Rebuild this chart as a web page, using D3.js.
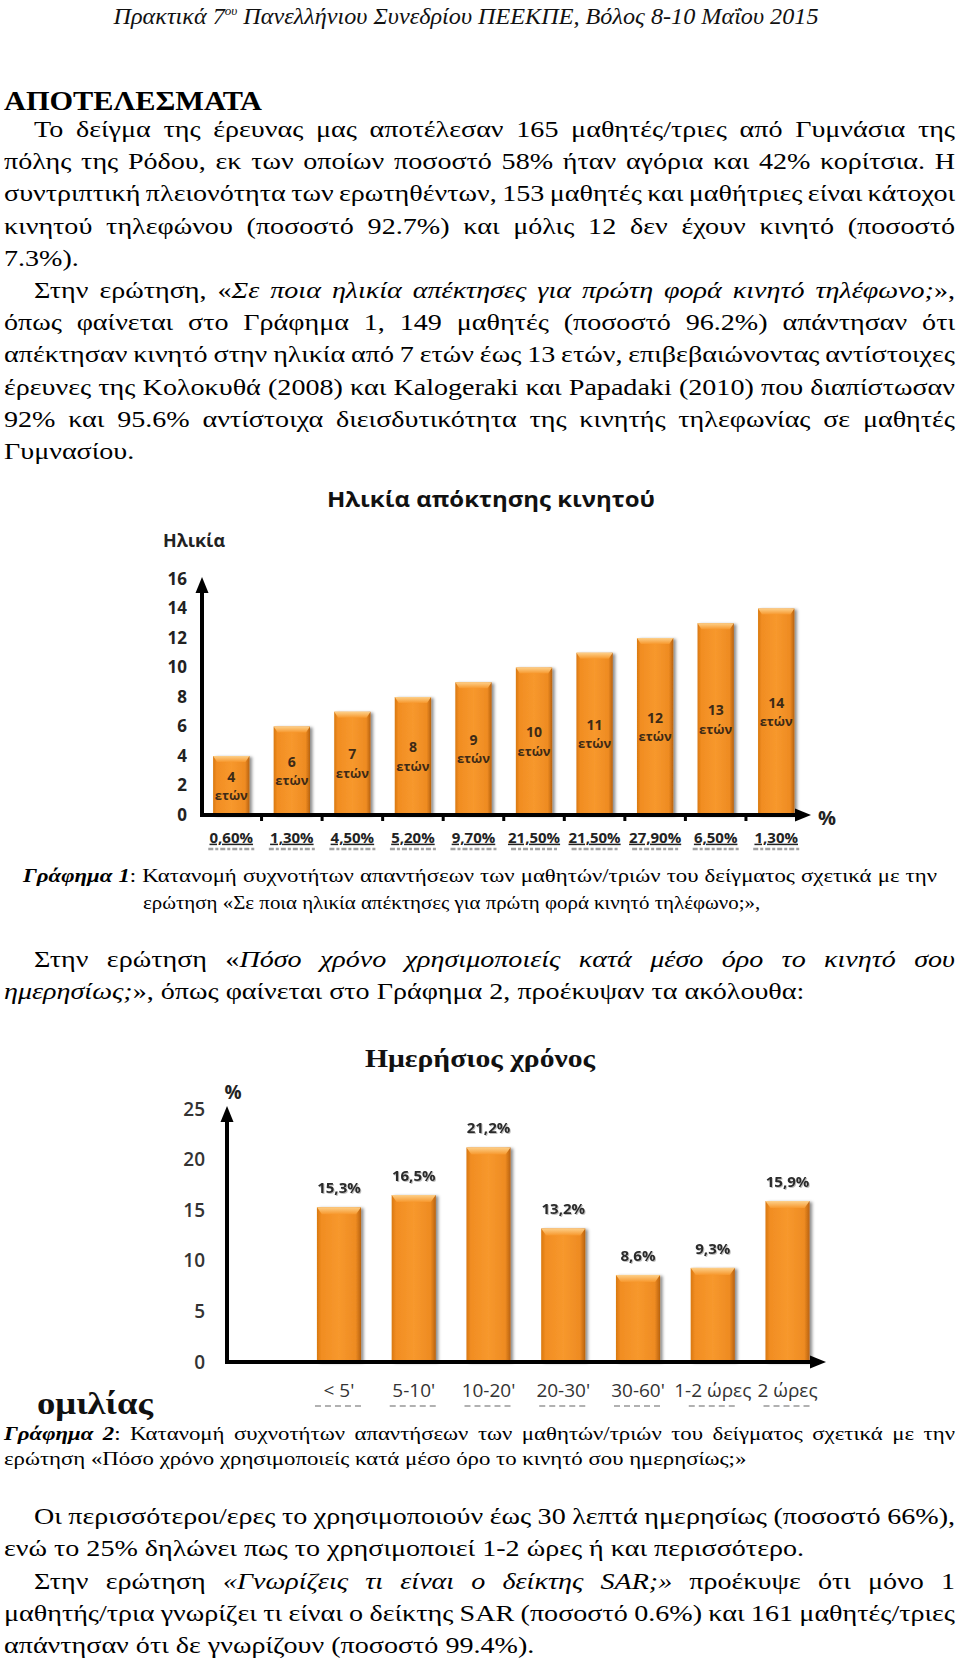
<!DOCTYPE html>
<html><head><meta charset="utf-8">
<script src="https://cdn.jsdelivr.net/npm/d3@7"></script>
<style>
html,body{margin:0;padding:0;background:#fff;}
svg{display:block;}
</style></head>
<body>
<svg id="page" width="960" height="1660"></svg>
<script>
// ---------------- DATA ----------------
const ageCats = ["4","6","7","8","9","10","11","12","13","14"];
const ageValues = [4,6,7,8,9,10,11,12,13,14];
const agePercents = [0.60,1.30,4.50,5.20,9.70,21.50,21.50,27.90,6.50,1.30];
const ageTicks = [0,2,4,6,8,10,12,14,16];

const timeCats = ["< 5'","5-10'","10-20'","20-30'","30-60'","1-2 ώρες","2 ώρες"];
const timeValues = [15.3,16.5,21.2,13.2,8.6,9.3,15.9];
const timeTicks = [0,5,10,15,20,25];

const chart1Title = "Ηλικία απόκτησης κινητού";
const chart1YLabel = "Ηλικία";
const chart1XLabel = "%";
const chart1Unit = "ετών";
const chart2Title = "Ημερήσιος χρόνος";
const chart2YLabel = "%";

// text lines: [segments], segment = [text, style]
const para1 = [
  {segs:[["Το δείγμα της έρευνας μας αποτέλεσαν 165 μαθητές/τριες από Γυμνάσια της",""]], indent:true, justify:true},
  {segs:[["πόλης της Ρόδου, εκ των οποίων ποσοστό 58% ήταν αγόρια και 42% κορίτσια. Η",""]], justify:true},
  {segs:[["συντριπτική πλειονότητα των ερωτηθέντων, 153 μαθητές και μαθήτριες είναι κάτοχοι",""]], justify:true},
  {segs:[["κινητού τηλεφώνου (ποσοστό 92.7%) και μόλις 12 δεν έχουν κινητό (ποσοστό",""]], justify:true},
  {segs:[["7.3%).",""]]},
  {segs:[["Στην ερώτηση, «",""],["Σε ποια ηλικία απέκτησες για πρώτη φορά κινητό τηλέφωνο;","i"],["»,",""]], indent:true, justify:true},
  {segs:[["όπως φαίνεται στο Γράφημα 1, 149 μαθητές (ποσοστό 96.2%) απάντησαν ότι",""]], justify:true},
  {segs:[["απέκτησαν κινητό στην ηλικία από 7 ετών έως 13 ετών, επιβεβαιώνοντας αντίστοιχες",""]], justify:true},
  {segs:[["έρευνες της Κολοκυθά (2008) και Kalogeraki και Papadaki (2010) που διαπίστωσαν",""]], justify:true},
  {segs:[["92% και 95.6% αντίστοιχα διεισδυτικότητα της κινητής τηλεφωνίας σε μαθητές",""]], justify:true},
  {segs:[["Γυμνασίου.",""]]}
];
const caption1 = [
  {segs:[["Γράφημα 1","bi"],[": Κατανομή συχνοτήτων απαντήσεων των μαθητών/τριών του δείγματος σχετικά με την",""]], justify:true, x0:23, x1:937},
  {segs:[["ερώτηση «Σε ποια ηλικία απέκτησες για πρώτη φορά κινητό τηλέφωνο;»,",""]], x0:143, hs:1.1}
];
const para2 = [
  {segs:[["Στην ερώτηση «",""],["Πόσο χρόνο χρησιμοποιείς κατά μέσο όρο το κινητό σου","i"]], indent:true, justify:true},
  {segs:[["ημερησίως;","i"],["», όπως φαίνεται στο Γράφημα 2, προέκυψαν τα ακόλουθα:",""]]}
];
const caption2 = [
  {segs:[["Γράφημα 2","bi"],[": Κατανομή συχνοτήτων απαντήσεων των μαθητών/τριών του δείγματος σχετικά με την",""]], justify:true},
  {segs:[["ερώτηση «Πόσο χρόνο χρησιμοποιείς κατά μέσο όρο το κινητό σου ημερησίως;»",""]]}
];
const para3 = [
  {segs:[["Οι περισσότεροι/ερες το χρησιμοποιούν έως 30 λεπτά ημερησίως (ποσοστό 66%),",""]], indent:true, justify:true},
  {segs:[["ενώ το 25% δηλώνει πως το χρησιμοποιεί 1-2 ώρες ή και περισσότερο.",""]]},
  {segs:[["Στην ερώτηση ",""],["«Γνωρίζεις τι είναι ο δείκτης SAR;»","i"],[" προέκυψε ότι μόνο 1",""]], indent:true, justify:true},
  {segs:[["μαθητής/τρια γνωρίζει τι είναι ο δείκτης SAR (ποσοστό 0.6%) και 161 μαθητές/τριες",""]], justify:true},
  {segs:[["απάντησαν ότι δε γνωρίζουν (ποσοστό 99.4%).",""]]}
];

// ---------------- SETUP ----------------
const SERIF = "'Liberation Serif','Times New Roman',serif";
const SANS = "'Open Sans','Noto Sans',sans-serif";
const svg = d3.select("#page");
const defs = svg.append("defs");

const barGrad = defs.append("linearGradient").attr("id","barGrad").attr("x1","0").attr("x2","1").attr("y1","0").attr("y2","0");
[["0%","#d9780f"],["10%","#f18d22"],["50%","#f7982d"],["88%","#ee8b22"],["100%","#b8620e"]]
  .forEach(([o,c])=>barGrad.append("stop").attr("offset",o).attr("stop-color",c));
const capGrad = defs.append("linearGradient").attr("id","capGrad").attr("x1","0").attr("x2","0").attr("y1","0").attr("y2","1");
[["0%","#fdd08a"],["100%","#f7982d"]].forEach(([o,c])=>capGrad.append("stop").attr("offset",o).attr("stop-color",c));
const sh = defs.append("filter").attr("id","shadow").attr("x","-20%").attr("y","-10%").attr("width","150%").attr("height","130%");
sh.append("feDropShadow").attr("dx",2.5).attr("dy",1).attr("stdDeviation",1.5).attr("flood-color","#000").attr("flood-opacity",0.45);
const tsh = defs.append("filter").attr("id","tshadow");
tsh.append("feDropShadow").attr("dx",1).attr("dy",1).attr("stdDeviation",0.6).attr("flood-color","#000").attr("flood-opacity",0.25);

// ---------------- TEXT HELPERS ----------------
function tokens(segs){
  const toks=[[]];
  segs.forEach(([t,s])=>{
    t.split(" ").forEach((p,i)=>{
      if(i>0) toks.push([]);
      if(p) toks[toks.length-1].push([p,s]);
    });
  });
  return toks.filter(t=>t.length);
}
function renderLine(line, y, o){
  const size=o.size;
  const x0 = line.x0!=null ? line.x0 : o.x0;
  const x1 = line.x1!=null ? line.x1 : o.x1;
  const hs = line.hs!=null ? line.hs : o.hs;
  const start = line.indent ? x0+o.indent : x0;
  const width = x1-start;
  const toks = tokens(line.segs);
  const g = svg.append("g");
  const els = toks.map(tok=>{
    const t = g.append("text").attr("y",y).attr("font-size",size).attr("font-family",o.family||SERIF).attr("fill","#000");
    tok.forEach(([p,s])=>t.append("tspan").text(p)
      .attr("font-style",s.includes("i")?"italic":null)
      .attr("font-weight",s.includes("b")?"bold":null));
    return t;
  });
  const ws = els.map(e=>e.node().getComputedTextLength());
  const sum = d3.sum(ws);
  const space = size*0.25*hs;
  let gap = space, sc = hs;
  if(line.justify && toks.length>1){
    gap = (width-sum*sc)/(toks.length-1);
    if(gap<space*0.6){ gap=space*0.6; sc=(width-gap*(toks.length-1))/sum; }
  }
  let cx = start;
  els.forEach((e,i)=>{
    e.attr("x",cx).attr("textLength",ws[i]*sc).attr("lengthAdjust","spacingAndGlyphs");
    cx += ws[i]*sc + gap;
  });
}
function renderBlock(lines, y0, step, o){
  lines.forEach((l,i)=>renderLine(l, y0+i*step, o));
}

// ---------------- PAGE TEXT ----------------
const header = svg.append("text").attr("x",466).attr("y",24).attr("text-anchor","middle")
  .attr("font-family",SERIF).attr("font-style","italic").attr("font-size",24).attr("fill","#111");
header.append("tspan").text("Πρακτικά 7");
header.append("tspan").text("ου").attr("font-size",13).attr("dy",-9);
header.append("tspan").text(" Πανελλήνιου Συνεδρίου ΠΕΕΚΠΕ, Βόλος 8-10 Μαΐου 2015").attr("dy",9);
header.attr("textLength",705).attr("lengthAdjust","spacingAndGlyphs");

svg.append("text").attr("x",4).attr("y",110).attr("font-family",SERIF).attr("font-weight","bold")
  .attr("font-size",28).attr("textLength",258).attr("lengthAdjust","spacingAndGlyphs").text("ΑΠΟΤΕΛΕΣΜΑΤΑ");

const bodyOpt = {size:24, x0:4, x1:955, indent:30, hs:1.17};
renderBlock(para1, 137, 32.2, bodyOpt);
renderBlock(caption1, 882, 27, {size:19, x0:4, x1:955, indent:0, hs:1.2});
renderBlock(para2, 967, 32, bodyOpt);
renderBlock(caption2, 1440, 25, {size:19, x0:4, x1:955, indent:0, hs:1.2});
renderBlock(para3, 1524, 32.3, bodyOpt);

svg.append("text").attr("x",37).attr("y",1414).attr("font-family",SERIF).attr("font-weight","bold")
  .attr("font-size",32).attr("fill","#111").attr("textLength",116).attr("lengthAdjust","spacingAndGlyphs").text("ομιλίας");

// ---------------- CHART 1 ----------------
{
  const base = 815;
  const x = d3.scaleBand().domain(ageCats).range([201,806.5]).paddingInner(0.4).paddingOuter(0.2);
  const y = d3.scaleLinear().domain([0,16]).range([base,579]);
  const g = svg.append("g");

  g.append("text").attr("x",491).attr("y",507).attr("text-anchor","middle")
    .attr("font-family",SANS).attr("font-weight","bold").attr("font-size",22).attr("fill","#111")
    .attr("textLength",328).attr("lengthAdjust","spacingAndGlyphs").text(chart1Title);
  g.append("text").attr("x",163).attr("y",547).attr("font-family",SANS).attr("font-weight","bold")
    .attr("font-size",18).attr("fill","#222").attr("textLength",62).attr("lengthAdjust","spacingAndGlyphs").text(chart1YLabel);

  const bars = g.selectAll(".bar").data(ageCats).enter().append("g");
  bars.append("rect").attr("x",d=>x(d)).attr("y",(d,i)=>y(ageValues[i]))
    .attr("width",x.bandwidth()).attr("height",(d,i)=>base-y(ageValues[i]))
    .attr("fill","url(#barGrad)").attr("filter","url(#shadow)");
  bars.append("path").attr("d",(d,i)=>{
      const x0=x(d), x1=x0+x.bandwidth(), t=y(ageValues[i]);
      return `M${x0},${t}L${x1},${t}L${x1-4},${t+6}L${x0+4},${t+6}Z`;})
    .attr("fill","url(#capGrad)");
  bars.append("text").attr("x",d=>x(d)+x.bandwidth()/2).attr("y",(d,i)=>(y(ageValues[i])+base)/2-9.5)
    .attr("text-anchor","middle").attr("dominant-baseline","central")
    .attr("font-family",SANS).attr("font-weight","bold").attr("font-size",14).attr("fill","#3d2a16")
    .text((d,i)=>ageValues[i]);
  bars.append("text").attr("x",d=>x(d)+x.bandwidth()/2).attr("y",(d,i)=>(y(ageValues[i])+base)/2+9.5)
    .attr("text-anchor","middle").attr("dominant-baseline","central")
    .attr("font-family",SANS).attr("font-weight","bold").attr("font-size",13).attr("fill","#3d2a16")
    .text(chart1Unit);

  const ya = g.append("g").attr("transform","translate(202,0)")
    .call(d3.axisLeft(y).tickValues(ageTicks).tickSize(0).tickPadding(15));
  ya.select(".domain").remove();
  ya.selectAll("text").attr("font-family",SANS).attr("font-weight","bold").attr("font-size",17).attr("fill","#222");

  const fmt = v=>d3.format(".2f")(v).replace(".",",")+"%";
  const xa = g.append("g").attr("transform",`translate(0,${base})`)
    .call(d3.axisBottom(x).tickSize(0).tickPadding(17).tickFormat((d,i)=>fmt(agePercents[i])));
  xa.select(".domain").remove();
  xa.selectAll("text").attr("font-family",SANS).attr("font-weight","bold").attr("font-size",15)
    .attr("fill","#222").attr("text-decoration","underline");
  // faint reflection marks under the labels
  g.selectAll(".refl1").data(ageCats).enter().append("line")
    .attr("x1",d=>x(d)+x.bandwidth()/2-23).attr("x2",d=>x(d)+x.bandwidth()/2+23)
    .attr("y1",849).attr("y2",849).attr("stroke","#555").attr("stroke-width",2.5)
    .attr("stroke-dasharray","5 2 3 2").attr("opacity",0.55);

  g.append("line").attr("x1",202).attr("x2",202).attr("y1",base+2).attr("y2",590).attr("stroke","#000").attr("stroke-width",4);
  g.append("path").attr("d",`M202,577L195.5,593L208.5,593Z`).attr("fill","#000");
  g.append("line").attr("x1",200).attr("x2",798).attr("y1",base).attr("y2",base).attr("stroke","#000").attr("stroke-width",4);
  g.append("path").attr("d",`M811,${base}L795,${base-6.5}L795,${base+6.5}Z`).attr("fill","#000");
  const step = x.step();
  g.selectAll(".tk").data(ageCats.slice(1)).enter().append("rect")
    .attr("x",d=>x(d)-step*x.paddingInner()/2-1.5).attr("y",base).attr("width",3).attr("height",6).attr("fill","#000");
  g.append("text").attr("x",827).attr("y",817).attr("text-anchor","middle").attr("dominant-baseline","central")
    .attr("font-family",SANS).attr("font-weight","bold").attr("font-size",20).attr("fill","#222").text(chart1XLabel);
}

// ---------------- CHART 2 ----------------
{
  const base = 1362;
  const x = d3.scaleBand().domain(timeCats).range([301.6,824.9]).paddingInner(0.41).paddingOuter(0.205);
  const y = d3.scaleLinear().domain([0,25]).range([base,1109]);
  const g = svg.append("g");

  g.append("text").attr("x",480).attr("y",1067).attr("text-anchor","middle")
    .attr("font-family",SERIF).attr("font-weight","bold").attr("font-size",26).attr("fill","#111")
    .attr("textLength",230).attr("lengthAdjust","spacingAndGlyphs").text(chart2Title);

  const bars = g.selectAll(".bar").data(timeCats).enter().append("g");
  bars.append("rect").attr("x",d=>x(d)).attr("y",(d,i)=>y(timeValues[i]))
    .attr("width",x.bandwidth()).attr("height",(d,i)=>base-y(timeValues[i]))
    .attr("fill","url(#barGrad)").attr("filter","url(#shadow)");
  bars.append("path").attr("d",(d,i)=>{
      const x0=x(d), x1=x0+x.bandwidth(), t=y(timeValues[i]);
      return `M${x0},${t}L${x1},${t}L${x1-5},${t+7}L${x0+5},${t+7}Z`;})
    .attr("fill","url(#capGrad)");
  bars.append("text").attr("x",d=>x(d)+x.bandwidth()/2).attr("y",(d,i)=>y(timeValues[i])-20)
    .attr("text-anchor","middle").attr("dominant-baseline","central")
    .attr("font-family",SANS).attr("font-weight","bold").attr("font-size",15).attr("fill","#2a2a2a")
    .attr("filter","url(#tshadow)")
    .text((d,i)=>d3.format(".1f")(timeValues[i]).replace(".",",")+"%");

  const ya = g.append("g").attr("transform","translate(227,0)")
    .call(d3.axisLeft(y).tickValues(timeTicks).tickSize(0).tickPadding(22));
  ya.select(".domain").remove();
  ya.selectAll("text").attr("font-family",SANS).attr("font-weight",600).attr("font-size",19).attr("fill","#333");

  const xa = g.append("g").attr("transform",`translate(0,${base})`)
    .call(d3.axisBottom(x).tickSize(0).tickPadding(22));
  xa.select(".domain").remove();
  xa.selectAll("text").attr("font-family",SANS).attr("font-size",19).attr("fill","#333");
  g.selectAll(".refl2").data(timeCats).enter().append("line")
    .attr("x1",d=>x(d)+x.bandwidth()/2-24).attr("x2",d=>x(d)+x.bandwidth()/2+24)
    .attr("y1",1406).attr("y2",1406).attr("stroke","#666").attr("stroke-width",2)
    .attr("stroke-dasharray","6 4").attr("opacity",0.5);

  g.append("line").attr("x1",227).attr("x2",227).attr("y1",base+2).attr("y2",1120).attr("stroke","#000").attr("stroke-width",4);
  g.append("path").attr("d",`M227,1106L220.5,1122L233.5,1122Z`).attr("fill","#000");
  g.append("line").attr("x1",225).attr("x2",812).attr("y1",base).attr("y2",base).attr("stroke","#000").attr("stroke-width",4);
  g.append("path").attr("d",`M826,${base}L810,${base-6.5}L810,${base+6.5}Z`).attr("fill","#000");
  g.append("text").attr("x",233).attr("y",1092).attr("text-anchor","middle").attr("dominant-baseline","central")
    .attr("font-family",SANS).attr("font-weight","bold").attr("font-size",19).attr("fill","#222").text(chart2YLabel);
}
</script>
</body></html>
